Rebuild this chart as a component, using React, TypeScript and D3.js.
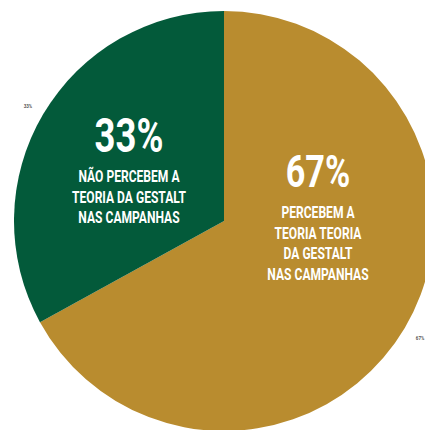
import React from 'react';
import * as d3 from 'd3';

const width = 425;
const height = 430;

// data
const categories = ['PERCEBEM', 'NÃO PERCEBEM'];
const values = [67, 33];
const colors = ['#b98c2f', '#035a3a'];
const bigLabels = ['67%', '33%'];
const captions = [
  ['PERCEBEM A', 'TEORIA TEORIA', 'DA GESTALT', 'NAS CAMPANHAS'],
  ['NÃO PERCEBEM A', 'TEORIA DA GESTALT', 'NAS CAMPANHAS'],
];

const cx = 224;
const cy = 221;
const radius = 210;

export default function App() {
  const pie = d3.pie<number>().sort(null).value((d) => d);
  const arcs = pie(values);
  const arc = d3.arc<d3.PieArcDatum<number>>().innerRadius(0).outerRadius(radius);
  const outer = d3.arc<d3.PieArcDatum<number>>().innerRadius(radius * 1.085).outerRadius(radius * 1.085);

  // label block anchors inside each slice (relative to center)
  const inner = [
    { x: 94, y: -34, big: 45, first: 31 },
    { x: -95, y: -69, big: 48, first: 30 },
  ];

  const font = "Roboto, 'Noto Sans', sans-serif";

  return (
    <svg
      width={width}
      height={height}
      style={{ position: 'absolute', left: 0, top: 0, background: '#fff' }}
    >
      <g transform={`translate(${cx},${cy})`}>
        {arcs.map((a, i) => (
          <path key={categories[i]} d={arc(a) || ''} fill={colors[i]} />
        ))}

        {arcs.map((a, i) => {
          const [ox, oy] = outer.centroid(a);
          return (
            <text
              key={'o' + i}
              x={ox}
              y={oy}
              dy={3}
              fontSize={4.5}
              fontWeight={700}
              fontFamily={font}
              fill="#555"
              textAnchor="middle"
            >
              {bigLabels[i]}
            </text>
          );
        })}

        {arcs.map((a, i) => {
          const p = inner[i];
          return (
            <g key={'l' + i} transform={`translate(${p.x},${p.y})`}>
              <text
                transform="scale(0.76,1)"
                fontSize={p.big}
                fontWeight={700}
                fontFamily={font}
                fill="#fff"
                textAnchor="middle"
              >
                {bigLabels[i]}
              </text>
              <g transform="scale(0.71,1)">
                {captions[i].map((l, j) => (
                  <text
                    key={j}
                    y={p.first + j * 20.6}
                    fontSize={17}
                    fontWeight={700}
                    fontFamily={font}
                    fill="#fff"
                    textAnchor="middle"
                  >
                    {l}
                  </text>
                ))}
              </g>
            </g>
          );
        })}
      </g>
    </svg>
  );
}
